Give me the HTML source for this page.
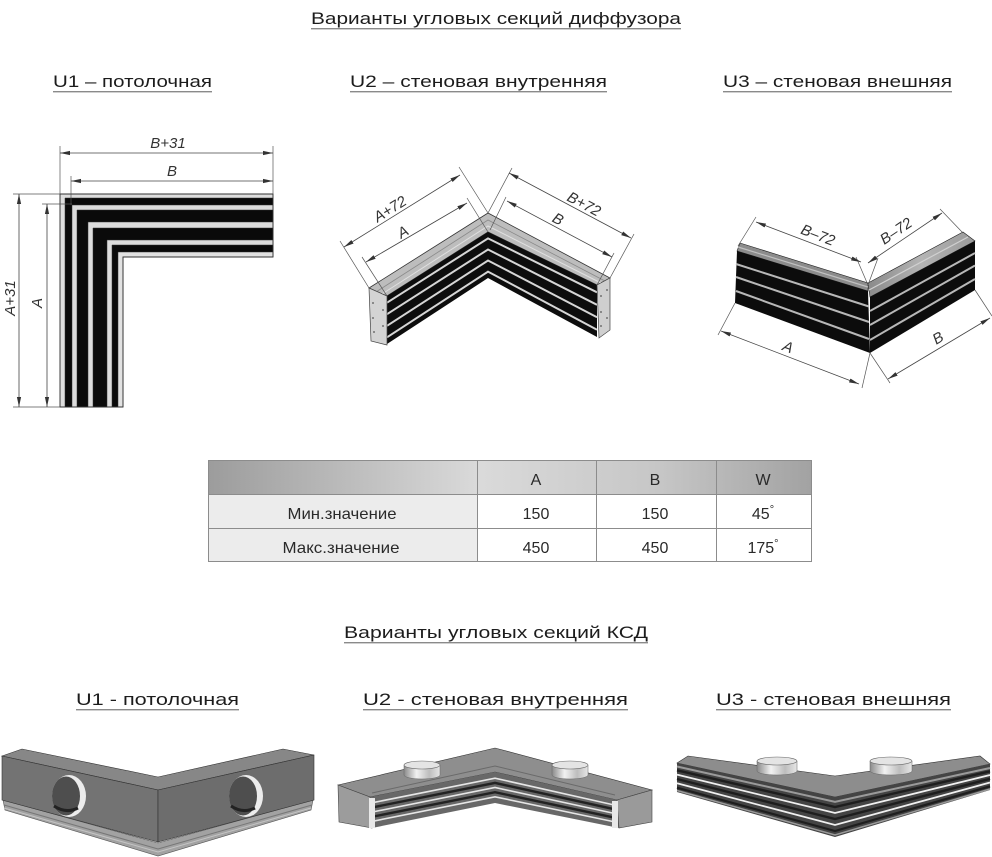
<!DOCTYPE html>
<html><head><meta charset="utf-8"><style>
html,body{margin:0;padding:0;background:#fff;}
svg{display:block;}
text{font-family:"Liberation Sans","DejaVu Sans",sans-serif;}
.h{font-size:17px;fill:#1c1c1c;}
.d{font-size:15px;fill:#333;font-style:italic;}
.t{font-size:16px;fill:#2a2a2a;}
</style></head><body>
<svg width="992" height="857" viewBox="0 0 992 857" xmlns="http://www.w3.org/2000/svg">
<defs>
<marker id="ar" viewBox="0 0 10 6" refX="10" refY="3" markerWidth="10" markerHeight="6" markerUnits="userSpaceOnUse" orient="auto-start-reverse"><path d="M0,0.9 L10,3 L0,5.1z" fill="#333"/></marker>
<linearGradient id="hdr" x1="0" x2="1" y1="0" y2="0"><stop offset="0" stop-color="#9c9c9c"/><stop offset="0.45" stop-color="#dadada"/><stop offset="0.75" stop-color="#c6c6c6"/><stop offset="1" stop-color="#a2a2a2"/></linearGradient>
<linearGradient id="met" x1="0" x2="1" y1="0" y2="0"><stop offset="0" stop-color="#8a8a8a"/><stop offset="0.35" stop-color="#f2f2f2"/><stop offset="0.7" stop-color="#bdbdbd"/><stop offset="1" stop-color="#e6e6e6"/></linearGradient>
<linearGradient id="rtop" x1="0" x2="1" y1="0" y2="0"><stop offset="0" stop-color="#8a8a8a"/><stop offset="0.5" stop-color="#b4b4b4"/><stop offset="1" stop-color="#9a9a9a"/></linearGradient>
</defs>

<!-- Headings -->
<text class="h" x="311" y="24" textLength="370" lengthAdjust="spacingAndGlyphs">Варианты угловых секций диффузора</text>
<rect x="311" y="28" width="370" height="1.4" fill="#8a8a8a"/>
<text class="h" x="53" y="87" textLength="159" lengthAdjust="spacingAndGlyphs">U1 – потолочная</text>
<rect x="53" y="91" width="159" height="1.4" fill="#8a8a8a"/>
<text class="h" x="350" y="87" textLength="257" lengthAdjust="spacingAndGlyphs">U2 – стеновая внутренняя</text>
<rect x="350" y="91" width="257" height="1.4" fill="#8a8a8a"/>
<text class="h" x="723" y="87" textLength="229" lengthAdjust="spacingAndGlyphs">U3 – стеновая внешняя</text>
<rect x="723" y="91" width="229" height="1.4" fill="#8a8a8a"/>

<text class="h" x="344" y="638" textLength="304" lengthAdjust="spacingAndGlyphs">Варианты угловых секций КСД</text>
<rect x="344" y="642" width="304" height="1.4" fill="#8a8a8a"/>
<text class="h" x="76" y="705" textLength="163" lengthAdjust="spacingAndGlyphs">U1 - потолочная</text>
<rect x="76" y="709" width="163" height="1.4" fill="#8a8a8a"/>
<text class="h" x="363" y="705" textLength="265" lengthAdjust="spacingAndGlyphs">U2 - стеновая внутренняя</text>
<rect x="363" y="709" width="265" height="1.4" fill="#8a8a8a"/>
<text class="h" x="716" y="705" textLength="235" lengthAdjust="spacingAndGlyphs">U3 - стеновая внешняя</text>
<rect x="716" y="709" width="235" height="1.4" fill="#8a8a8a"/>

<!-- ===== Top U1 ===== -->
<g stroke="#333" stroke-width="0.5">
<polygon points="60,194 273,194 273,257 123,257 123,407 60,407" fill="#dedede"/>
<polygon points="65,198 273,198 273,257 123,257 123,407 65,407" fill="#0a0a0a"/>
<polygon points="72,205 273,205 273,257 123,257 123,407 72,407" fill="#dcdcdc"/>
<polygon points="77,210 273,210 273,257 123,257 123,407 77,407" fill="#0a0a0a"/>
<polygon points="88,222 273,222 273,257 123,257 123,407 88,407" fill="#dcdcdc"/>
<polygon points="93,228 273,228 273,257 123,257 123,407 93,407" fill="#0a0a0a"/>
<polygon points="107,240 273,240 273,257 123,257 123,407 107,407" fill="#dcdcdc"/>
<polygon points="112,245 273,245 273,257 123,257 123,407 112,407" fill="#0a0a0a"/>
<polygon points="118,252 273,252 273,257 123,257 123,407 118,407" fill="#e2e2e2"/>
</g>
<polygon points="60,194 273,194 273,257 123,257 123,407 60,407" fill="none" stroke="#333" stroke-width="0.9"/>
<g stroke="#555" stroke-width="0.7" fill="none">
<line x1="60" y1="146" x2="60" y2="194"/>
<line x1="273" y1="146" x2="273" y2="194"/>
<line x1="71" y1="176" x2="71" y2="205"/>
<line x1="13" y1="194" x2="60" y2="194"/>
<line x1="42" y1="204" x2="72" y2="204"/>
<line x1="13" y1="407" x2="60" y2="407"/>
</g>
<g stroke="#444" stroke-width="0.8" marker-start="url(#ar)" marker-end="url(#ar)">
<line x1="60" y1="153" x2="273" y2="153"/>
<line x1="71" y1="181" x2="273" y2="181"/>
<line x1="19" y1="194" x2="19" y2="407"/>
<line x1="47" y1="204" x2="47" y2="407"/>
</g>
<text class="d" x="168" y="148" text-anchor="middle">B+31</text>
<text class="d" x="172" y="176" text-anchor="middle">B</text>
<text class="d" transform="translate(15,298) rotate(-90)" text-anchor="middle">A+31</text>
<text class="d" transform="translate(42,303) rotate(-90)" text-anchor="middle">A</text>

<!-- ===== Top U2 ===== -->
<polygon points="369,288 488,213 610,278 597,285 488,232 387,296" fill="#bdbdbd" stroke="#333" stroke-width="0.8"/>
<polyline points="376,292 488,220 605,281" fill="none" stroke="#8a8a8a" stroke-width="0.8"/>
<polyline points="382,294 488,226 601,283" fill="none" stroke="#e0e0e0" stroke-width="1"/>
<polygon points="387,296 488,232 597,285 597,337 488,278 387,344" fill="#0d0d0d"/>
<g fill="none" stroke="#d6d6d6" stroke-width="2">
<polyline points="387,302.7 488,238.4 597,292.3"/>
<polyline points="387,314.2 488,249.5 597,304.8"/>
<polyline points="387,325.8 488,260.5 597,317.2"/>
<polyline points="387,337.3 488,271.6 597,329.7"/>
</g>
<polygon points="369,288 387,296 387,345 371,341" fill="#d4d4d4" stroke="#444" stroke-width="0.7"/>
<polygon points="597,285 610,278 610,330 599,338" fill="#cfcfcf" stroke="#444" stroke-width="0.7"/>
<g fill="#555">
<circle cx="373" cy="303" r="0.9"/><circle cx="373" cy="318" r="0.9"/><circle cx="374" cy="332" r="0.9"/><circle cx="383" cy="310" r="0.9"/><circle cx="383" cy="326" r="0.9"/>
<circle cx="601" cy="296" r="0.9"/><circle cx="601" cy="312" r="0.9"/><circle cx="601" cy="326" r="0.9"/><circle cx="607" cy="290" r="0.9"/><circle cx="607" cy="318" r="0.9"/>
</g>
<g stroke="#555" stroke-width="0.7" fill="none">
<line x1="369" y1="288" x2="340" y2="241"/>
<line x1="488" y1="213" x2="459" y2="167"/>
<line x1="387" y1="296" x2="362" y2="257"/>
<line x1="488" y1="232" x2="467" y2="198"/>
<line x1="488" y1="213" x2="512" y2="168"/>
<line x1="490" y1="230" x2="506" y2="197"/>
<line x1="610" y1="278" x2="634" y2="234"/>
<line x1="597" y1="285" x2="614" y2="253"/>
</g>
<g stroke="#444" stroke-width="0.8" marker-start="url(#ar)" marker-end="url(#ar)">
<line x1="344" y1="247" x2="460" y2="175"/>
<line x1="366" y1="262" x2="467" y2="203"/>
<line x1="509" y1="173" x2="631" y2="238"/>
<line x1="507" y1="201" x2="612" y2="257"/>
</g>
<text class="d" transform="translate(390,209) rotate(-32)" text-anchor="middle" y="5">A+72</text>
<text class="d" transform="translate(403,232) rotate(-31)" text-anchor="middle" y="5">A</text>
<text class="d" transform="translate(584,204) rotate(28)" text-anchor="middle" y="5">B+72</text>
<text class="d" transform="translate(558,219) rotate(28)" text-anchor="middle" y="5">B</text>

<!-- ===== Top U3 ===== -->
<polygon points="740,243 868,283 868,291 737,251" fill="#8c8c8c" stroke="#222" stroke-width="0.6"/>
<polygon points="737,251 868,291 870,353 735,303" fill="#0c0c0c"/>
<polygon points="868,283 963,232 975,241 870,297" fill="url(#rtop)" stroke="#222" stroke-width="0.6"/>
<polygon points="870,297 975,241 975,290 870,353" fill="#0c0c0c"/>
<g fill="none" stroke="#b8b8b8" stroke-width="2">
<polyline points="736,264 869,306.5"/>
<polyline points="736,277 869,322"/>
<polyline points="736,291 869,339"/>
<polyline points="870,311 975,253"/>
<polyline points="870,325 975,265.5"/>
<polyline points="870,340 975,279"/>
</g>
<line x1="738" y1="247" x2="868" y2="287" stroke="#c0c0c0" stroke-width="1.2"/>
<line x1="869" y1="290" x2="968" y2="237" stroke="#d0d0d0" stroke-width="1.2"/>
<g stroke="#555" stroke-width="0.7" fill="none">
<line x1="738" y1="246" x2="756" y2="217"/>
<line x1="868" y1="285" x2="856" y2="257"/>
<line x1="868" y1="285" x2="878" y2="258"/>
<line x1="963" y1="233" x2="940" y2="209"/>
<line x1="735" y1="303" x2="718" y2="335"/>
<line x1="870" y1="353" x2="862" y2="388"/>
<line x1="870" y1="353" x2="890" y2="383"/>
<line x1="975" y1="290" x2="992" y2="316"/>
</g>
<g stroke="#444" stroke-width="0.8" marker-start="url(#ar)" marker-end="url(#ar)">
<line x1="756" y1="222" x2="861" y2="262"/>
<line x1="868" y1="263" x2="942" y2="213"/>
<line x1="721" y1="331" x2="859" y2="384"/>
<line x1="888" y1="379" x2="990" y2="318"/>
</g>
<text class="d" transform="translate(818,235) rotate(21)" text-anchor="middle" y="5">B–72</text>
<text class="d" transform="translate(896,231) rotate(-34)" text-anchor="middle" y="5">B–72</text>
<text class="d" transform="translate(788,347) rotate(21)" text-anchor="middle" y="5">A</text>
<text class="d" transform="translate(938,338) rotate(-31)" text-anchor="middle" y="5">B</text>

<!-- ===== Table ===== -->
<rect x="208" y="460" width="604" height="34" fill="url(#hdr)"/>
<rect x="208" y="494" width="269" height="68" fill="#ececec"/>
<g stroke="#8c8c8c" stroke-width="1" fill="none">
<rect x="208.5" y="460.5" width="603" height="101"/>
<line x1="208" y1="494.5" x2="812" y2="494.5"/>
<line x1="208" y1="528.5" x2="812" y2="528.5"/>
<line x1="477.5" y1="460" x2="477.5" y2="562"/>
<line x1="596.5" y1="460" x2="596.5" y2="562"/>
<line x1="716.5" y1="460" x2="716.5" y2="562"/>
</g>
<g class="t" text-anchor="middle">
<text x="536" y="485">A</text>
<text x="655" y="485">B</text>
<text x="763" y="485">W</text>
<text x="342" y="519" textLength="109" lengthAdjust="spacingAndGlyphs">Мин.значение</text>
<text x="536" y="519">150</text>
<text x="655" y="519">150</text>
<text x="763" y="519">45<tspan dy="-6" font-size="11">°</tspan></text>
<text x="341" y="553" textLength="117" lengthAdjust="spacingAndGlyphs">Макс.значение</text>
<text x="536" y="553">450</text>
<text x="655" y="553">450</text>
<text x="763" y="553">175<tspan dy="-6" font-size="11">°</tspan></text>
</g>

<!-- ===== Bottom U1 ===== -->
<polygon points="3,800 158,843 313,800 311,810 158,856 5,810" fill="#a2a2a2" stroke="#555" stroke-width="0.6"/>
<polyline points="4,805 158,849 312,805" fill="none" stroke="#777" stroke-width="1"/>
<polyline points="4,808 158,852 311,808" fill="none" stroke="#c4c4c4" stroke-width="1"/>
<polygon points="2,756 22,749 158,777 283,749 314,755 158,790" fill="#878787" stroke="#333" stroke-width="0.6"/>
<polygon points="2,756 158,790 158,842 2,800" fill="#737373" stroke="#333" stroke-width="0.6"/>
<polygon points="158,790 314,755 314,800 158,842" fill="#6d6d6d" stroke="#333" stroke-width="0.6"/>
<ellipse cx="69" cy="796" rx="17" ry="21" fill="#ececec"/>
<ellipse cx="66" cy="796" rx="14" ry="19.5" fill="#4e4e4e"/>
<path d="M54,806 Q66,814 78,808" stroke="#222" stroke-width="3" fill="none"/>
<ellipse cx="246" cy="796" rx="17" ry="21" fill="#ececec"/>
<ellipse cx="243" cy="796" rx="14" ry="19.5" fill="#4e4e4e"/>
<path d="M231,806 Q243,814 255,808" stroke="#222" stroke-width="3" fill="none"/>

<!-- ===== Bottom U2 ===== -->
<polygon points="338,785 495,748 652,790 617,800 495,772 370,797" fill="#8e8e8e" stroke="#333" stroke-width="0.6"/>
<polyline points="372,793 495,766 615,795" fill="none" stroke="#6a6a6a" stroke-width="1"/>
<polygon points="370,797 495,772 617,800 619,828 495,803 372,828" fill="#686868"/>
<g fill="none">
<polyline points="370,803.2 495,778.2 617,805.6" stroke="#e6e6e6" stroke-width="1.6"/>
<polyline points="370,807.9 495,782.9 617,809.8" stroke="#222" stroke-width="2.4"/>
<polyline points="370,812.5 495,787.5 617,814" stroke="#e6e6e6" stroke-width="1.6"/>
<polyline points="370,817.2 495,792.2 617,818.2" stroke="#222" stroke-width="2.4"/>
<polyline points="370,821.8 495,796.8 617,822.4" stroke="#e6e6e6" stroke-width="1.6"/>
</g>
<polygon points="338,785 370,797 372,828 339,822" fill="#9c9c9c" stroke="#444" stroke-width="0.6"/>
<polygon points="617,800 652,790 652,822 619,828" fill="#9a9a9a" stroke="#444" stroke-width="0.6"/>
<rect x="369" y="798" width="6" height="30" fill="#e8e8e8"/>
<rect x="612" y="801" width="6" height="27" fill="#e8e8e8"/>
<path d="M404,765 L404,775 A18,4 0 0 0 440,775 L440,765 Z" fill="url(#met)" stroke="#666" stroke-width="0.5"/>
<ellipse cx="422" cy="765" rx="18" ry="4" fill="#e4e4e4" stroke="#666" stroke-width="0.6"/>
<path d="M552,765 L552,775 A18,4 0 0 0 588,775 L588,765 Z" fill="url(#met)" stroke="#666" stroke-width="0.5"/>
<ellipse cx="570" cy="765" rx="18" ry="4" fill="#e4e4e4" stroke="#666" stroke-width="0.6"/>

<!-- ===== Bottom U3 ===== -->
<polygon points="688,756 835,776 980,756 990,764 835,797 677,763" fill="#8d8d8d" stroke="#333" stroke-width="0.6"/>
<polygon points="677,763 835,797 990,764 990,790 835,837 677,792" fill="#444"/>
<g fill="none">
<polyline points="677,766.5 835,801.8 990,768" stroke="#9a9a9a" stroke-width="2"/>
<polyline points="677,770.3 835,807 990,771.3" stroke="#1e1e1e" stroke-width="2.4"/>
<polyline points="677,774.6 835,813 990,775" stroke="#f0f0f0" stroke-width="1.8"/>
<polyline points="677,779 835,819 990,778.8" stroke="#1e1e1e" stroke-width="2.4"/>
<polyline points="677,783.3 835,825 990,782.5" stroke="#f0f0f0" stroke-width="1.8"/>
<polyline points="677,787.7 835,831 990,786.3" stroke="#1e1e1e" stroke-width="2.2"/>
<polyline points="677,790.5 835,835 990,789" stroke="#9a9a9a" stroke-width="1.5"/>
</g>
<path d="M757,761 L757,771 A20,4 0 0 0 797,771 L797,761 Z" fill="url(#met)" stroke="#666" stroke-width="0.5"/>
<ellipse cx="777" cy="761" rx="20" ry="4" fill="#e4e4e4" stroke="#666" stroke-width="0.6"/>
<path d="M870,761 L870,771 A21,4 0 0 0 912,771 L912,761 Z" fill="url(#met)" stroke="#666" stroke-width="0.5"/>
<ellipse cx="891" cy="761" rx="21" ry="4" fill="#e4e4e4" stroke="#666" stroke-width="0.6"/>
</svg>
</body></html>
